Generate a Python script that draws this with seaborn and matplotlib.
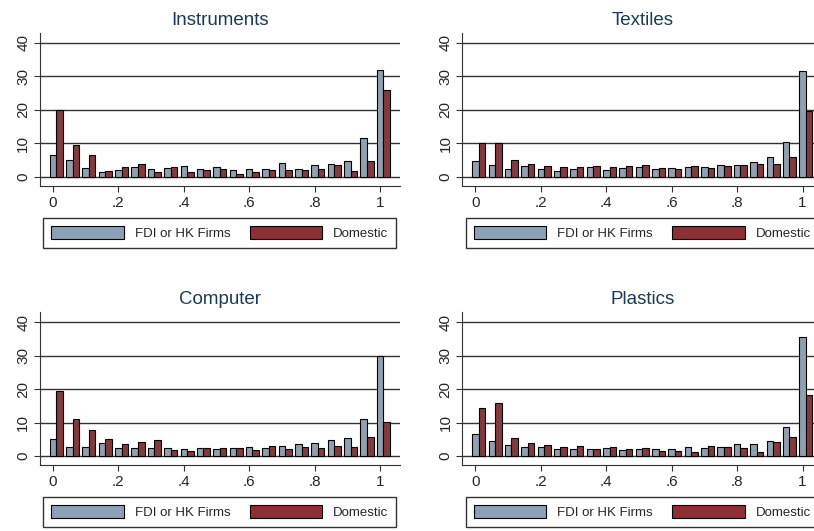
import numpy as np
import pandas as pd
import seaborn as sns
import matplotlib.pyplot as plt
from matplotlib.patches import Patch

bins = [round(0.05 * i, 2) for i in range(21)]
titles = ['Instruments', 'Textiles', 'Computer', 'Plastics']

fdi = {
    'Instruments': [6.5, 5, 2.5, 1.3, 2, 2.8, 2.3, 2.5, 3.2, 2.2, 2.8, 2, 2.3, 2.2, 4, 2.2, 3.5, 3.8, 4.8, 11.5, 31.8],
    'Textiles': [4.6, 3.5, 2.3, 3.2, 2.2, 1.8, 2.3, 2.8, 2, 2.7, 2.8, 2.3, 2.5, 2.8, 3, 3.5, 3.5, 4.5, 6, 10.5, 31.5],
    'Computer': [5, 2.8, 2.8, 4, 2.5, 2.5, 2.3, 2.4, 2.2, 2.3, 2.2, 2.3, 2.7, 2.5, 3, 3.5, 4, 4.7, 5.3, 11.2, 30],
    'Plastics': [6.7, 4.6, 3.2, 2.8, 2.7, 2, 2.2, 2.2, 2.5, 1.7, 2.2, 2.2, 2, 2.7, 2.5, 2.8, 3.5, 3.5, 4.5, 8.7, 35.5],
}
domestic = {
    'Instruments': [20, 9.5, 6.5, 1.7, 2.8, 3.7, 1.4, 3, 1.4, 2, 2.2, 0.8, 1.4, 2, 2, 2, 2.3, 3.5, 1.7, 4.8, 26],
    'Textiles': [10, 10.2, 5, 3.7, 3.2, 2.8, 2.8, 3.2, 3, 3.2, 3.4, 2.5, 2.3, 3.2, 2.5, 3.2, 3.5, 3.8, 3.7, 5.8, 19.7],
    'Computer': [19.5, 11, 7.8, 5.2, 3.6, 4.2, 4.8, 1.8, 1.6, 2.5, 2.5, 2.5, 1.9, 3, 2, 2.6, 2.3, 3, 2.7, 5.8, 10.2],
    'Plastics': [14.3, 15.8, 5.5, 4, 3.4, 2.8, 3, 2, 2.8, 2, 2.3, 1.6, 1.6, 1.3, 3, 2.8, 2.5, 1.3, 4.2, 5.8, 18.3],
}
groups = ['FDI or HK Firms', 'Domestic']
colors = ['#8CA0B6', '#8E2E35']

sns.set_style('white')
plt.rcParams['font.family'] = ['Liberation Sans', 'DejaVu Sans']

fig = plt.figure(figsize=(8.14, 5.31), dpi=100)
positions = [(0.049, 0.650), (0.568, 0.650), (0.049, 0.124), (0.568, 0.124)]

for title, (l, b) in zip(titles, positions):
    ax = fig.add_axes([l, b, 0.442, 0.288])
    df = pd.DataFrame({
        'bin': list(range(21)) * 2,
        'pct': fdi[title] + domestic[title],
        'group': [groups[0]] * 21 + [groups[1]] * 21,
    })
    sns.barplot(data=df, x='bin', y='pct', hue='group', palette=colors,
                width=0.8, edgecolor='black', linewidth=0.8, ax=ax, legend=False)
    ax.set_xlim(-1, 21)
    ax.set_ylim(-2.7, 43)
    ax.set_yticks([0, 10, 20, 30, 40])
    ax.set_yticklabels(['0', '10', '20', '30', '40'], rotation=90, va='center', fontsize=11)
    ax.set_xticks([i - 0.2 for i in range(0, 21, 4)])
    ax.set_xticklabels(['0', '.2', '.4', '.6', '.8', '1'], fontsize=11)
    for y in [0, 10, 20, 30, 40]:
        ax.axhline(y, color='#333333', lw=1, zorder=0)
    ax.set_xlabel('')
    ax.set_ylabel('')
    for s in ['top', 'right']:
        ax.spines[s].set_visible(False)
    for s in ['left', 'bottom']:
        ax.spines[s].set_color('#333333')
    ax.tick_params(axis='both', length=4, color='#333333', bottom=True, left=True, pad=3)
    ax.set_title(title, fontsize=13.5, color='#1C3A57', pad=6)
    handles = [Patch(facecolor=c, edgecolor='black', lw=0.8) for c in colors]
    ax.legend(handles, groups, loc='upper left', bbox_to_anchor=(0.01, -0.22, 0.98, 0.01),
              ncol=2, mode='expand', fontsize=9.5, frameon=True, fancybox=False,
              edgecolor='black', handlelength=5.5, handleheight=1.1, borderpad=0.6,
              borderaxespad=0)

fig.savefig('out.png', dpi=100)
